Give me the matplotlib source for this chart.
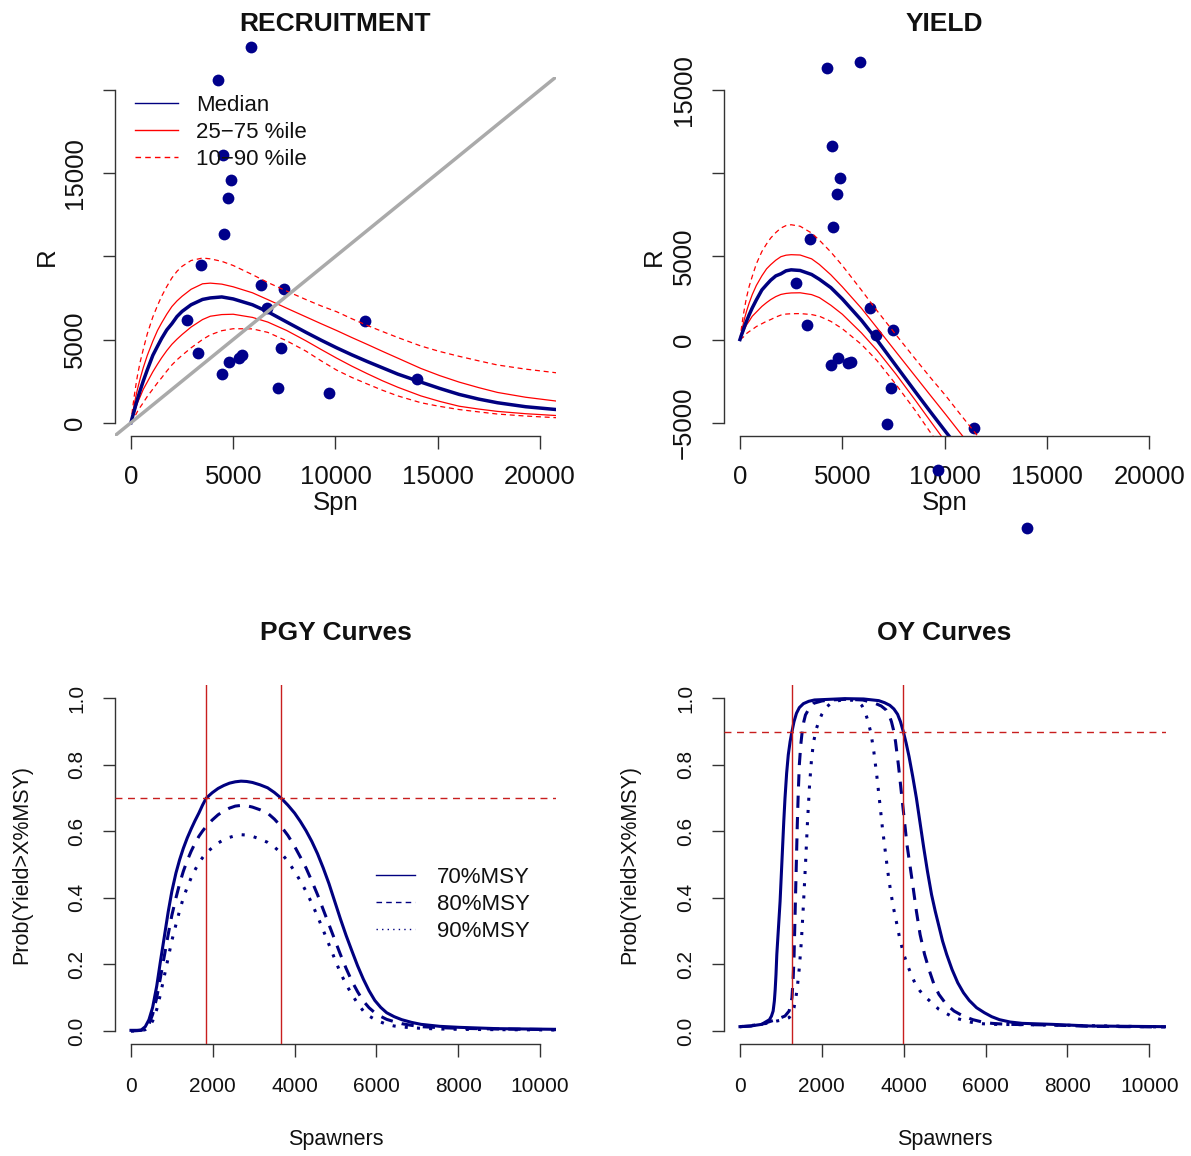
import matplotlib
matplotlib.use("Agg")
import matplotlib.pyplot as plt
from matplotlib.lines import Line2D
import numpy as np

plt.rcParams['font.family'] = ['Liberation Sans', 'DejaVu Sans']

# ---------------- data ----------------
obs_spawners = [5870, 4260, 4485, 4895, 4755, 4550, 3420, 6375, 7475, 6640, 2740,
                11440, 3290, 7355, 4785, 5420, 5290, 4450, 7195, 9675, 14000]
obs_recruits = [22560, 20580, 16090, 14595, 13525, 11320, 9475, 8255, 8050, 6890, 6150,
                6100, 4170, 4465, 3665, 4040, 3860, 2940, 2090, 1815, 2655]

curve_spawners = [0, 80, 160, 240, 320, 450, 600, 800, 1070, 1300, 1500, 1750, 2000, 2250,
                  2500, 2940, 3500, 3880, 4440, 5000, 5940, 6690, 7620, 8560, 9300, 10060,
                  10800, 11550, 12300, 13050, 14180, 15100, 16050, 17000, 17920, 19300, 20800]
rec_median = [0, 376, 724, 1088, 1422, 1940, 2500, 3180, 4050, 4600, 5065, 5575, 5950, 6380,
              6690, 7090, 7410, 7500, 7560, 7440, 7090, 6670, 6050, 5430, 4960, 4500,
              4080, 3680, 3300, 2920, 2440, 2060, 1700, 1420, 1200, 960, 790]
rec_p75 = [0, 560, 1100, 1580, 2020, 2650, 3300, 4050, 4900, 5550, 6000, 6520, 6980, 7320,
           7600, 8020, 8350, 8390, 8330, 8170, 7810, 7400, 6880, 6360, 5950, 5540,
           5120, 4710, 4290, 3880, 3260, 2830, 2440, 2110, 1820, 1530, 1300]
rec_p25 = [0, 300, 600, 900, 1200, 1560, 2000, 2450, 3060, 3520, 3900, 4330, 4710, 5020,
           5300, 5750, 6200, 6400, 6500, 6520, 6330, 6050, 5540, 4920, 4400, 3880,
           3400, 2950, 2520, 2130, 1610, 1280, 990, 820, 680, 540, 430]
rec_p90 = [0, 850, 1600, 2250, 2850, 3650, 4400, 5350, 6360, 7050, 7600, 8180, 8700, 9100,
           9400, 9750, 9900, 9850, 9700, 9450, 8900, 8430, 7910, 7400, 7020, 6670,
           6250, 5850, 5480, 5120, 4610, 4280, 3990, 3720, 3470, 3220, 3000]
rec_p10 = [0, 150, 300, 490, 680, 930, 1200, 1580, 2020, 2400, 2700, 3100, 3470, 3780,
           4050, 4500, 5000, 5280, 5530, 5650, 5640, 5430, 4920, 4300, 3720, 3160,
           2720, 2330, 1950, 1610, 1200, 980, 790, 650, 520, 400, 300]

pgy_spawners = [0, 150, 250, 350, 440, 530, 630, 720, 815, 910, 1000, 1100, 1190, 1280,
                1375, 1470, 1565, 1660, 1750, 1840, 1985, 2130, 2270, 2410, 2550, 2690,
                2830, 2970, 3155, 3340, 3505, 3670, 3835, 4000, 4140, 4280, 4420, 4560,
                4700, 4840, 4980, 5120, 5260, 5400, 5540, 5680, 5820, 5960, 6105, 6250,
                6435, 6620, 6855, 7090, 7550, 8020, 8960, 10410]
pgy_70 = [0.002, 0.002, 0.003, 0.013, 0.034, 0.071, 0.135, 0.209, 0.283, 0.358, 0.420,
          0.475, 0.515, 0.549, 0.580, 0.607, 0.632, 0.655, 0.679, 0.700, 0.716, 0.729,
          0.738, 0.745, 0.749, 0.751, 0.750, 0.747, 0.740, 0.731, 0.717, 0.700, 0.679,
          0.655, 0.630, 0.602, 0.570, 0.533, 0.490, 0.443, 0.390, 0.337, 0.287, 0.241,
          0.196, 0.156, 0.121, 0.092, 0.071, 0.055, 0.043, 0.034, 0.026, 0.020, 0.014,
          0.011, 0.007, 0.005]
pgy_80 = [0.0, 0.001, 0.002, 0.006, 0.020, 0.050, 0.100, 0.160, 0.225, 0.290, 0.348,
          0.400, 0.443, 0.480, 0.512, 0.540, 0.564, 0.585, 0.601, 0.615, 0.634, 0.650,
          0.661, 0.670, 0.676, 0.678, 0.677, 0.673, 0.665, 0.655, 0.637, 0.615, 0.588,
          0.555, 0.523, 0.490, 0.451, 0.410, 0.365, 0.320, 0.275, 0.230, 0.188, 0.150,
          0.118, 0.090, 0.070, 0.055, 0.044, 0.035, 0.028, 0.022, 0.017, 0.013, 0.010,
          0.008, 0.006, 0.004]
pgy_90 = [0.0, 0.0, 0.001, 0.004, 0.012, 0.030, 0.065, 0.110, 0.165, 0.220, 0.272,
          0.320, 0.362, 0.400, 0.432, 0.460, 0.484, 0.505, 0.521, 0.535, 0.551, 0.565,
          0.575, 0.582, 0.587, 0.590, 0.589, 0.585, 0.577, 0.567, 0.553, 0.535, 0.510,
          0.480, 0.451, 0.420, 0.384, 0.345, 0.303, 0.260, 0.217, 0.175, 0.140, 0.110,
          0.083, 0.060, 0.045, 0.035, 0.027, 0.020, 0.015, 0.012, 0.010, 0.008, 0.006,
          0.005, 0.004, 0.003]
pgy_bounds = [1826, 3670]
pgy_level = 0.7

oy70_spawners = [0, 260, 530, 720, 770, 810, 840, 860, 880, 900, 940, 980, 1010, 1040,
                 1070, 1100, 1140, 1180, 1225, 1270, 1320, 1380, 1450, 1550, 1680, 1820,
                 2560, 3020, 3390, 3530, 3660, 3760, 3850, 3920, 3990, 4060, 4130, 4220,
                 4310, 4400, 4490, 4580, 4680, 4770, 4860, 4950, 5050, 5180, 5320, 5460,
                 5600, 5780, 5970, 6150, 6340, 6600, 6890, 7620, 8550, 10390]
oy_70 = [0.013, 0.015, 0.020, 0.034, 0.045, 0.060, 0.090, 0.124, 0.170, 0.230, 0.310,
         0.390, 0.470, 0.550, 0.630, 0.700, 0.775, 0.830, 0.870, 0.900, 0.930, 0.955,
         0.972, 0.984, 0.991, 0.995, 0.999, 0.998, 0.993, 0.987, 0.979, 0.968, 0.952,
         0.930, 0.900, 0.865, 0.825, 0.765, 0.700, 0.625, 0.550, 0.480, 0.410, 0.360,
         0.315, 0.270, 0.230, 0.185, 0.145, 0.115, 0.092, 0.070, 0.055, 0.043, 0.034,
         0.027, 0.023, 0.020, 0.015, 0.013]
oy80_spawners = [0, 260, 530, 720, 900, 1100, 1200, 1240, 1270, 1300, 1320, 1340, 1360,
                 1380, 1400, 1425, 1450, 1485, 1520, 1560, 1600, 1700, 1800, 2000, 2200,
                 2600, 3000, 3300, 3450, 3570, 3640, 3700, 3750, 3800, 3870, 3940, 4010,
                 4080, 4150, 4220, 4310, 4400, 4510, 4630, 4740, 4860, 5040, 5230, 5450,
                 5690, 5920, 6150, 6520, 7620, 8550, 10390]
oy_80 = [0.013, 0.015, 0.020, 0.028, 0.035, 0.045, 0.060, 0.080, 0.100, 0.160, 0.220,
         0.320, 0.420, 0.520, 0.620, 0.720, 0.800, 0.860, 0.900, 0.930, 0.950, 0.972,
         0.985, 0.992, 0.995, 0.997, 0.995, 0.985, 0.977, 0.965, 0.950, 0.930, 0.905,
         0.870, 0.800, 0.720, 0.640, 0.560, 0.500, 0.440, 0.360, 0.290, 0.230, 0.180,
         0.140, 0.110, 0.080, 0.060, 0.045, 0.034, 0.027, 0.023, 0.020, 0.018, 0.014,
         0.012]
oy90_spawners = [0, 530, 900, 1100, 1200, 1260, 1320, 1360, 1400, 1450, 1500, 1550, 1600,
                 1650, 1700, 1750, 1800, 1870, 1940, 2000, 2100, 2200, 2300, 2450, 2600,
                 2750, 2900, 2980, 3050, 3120, 3200, 3270, 3340, 3420, 3480, 3540, 3610,
                 3680, 3750, 3810, 3900, 3990, 4100, 4270, 4400, 4550, 4860, 5200, 5500,
                 5780, 6150, 7620, 10390]
oy_90 = [0.013, 0.020, 0.030, 0.035, 0.040, 0.050, 0.070, 0.095, 0.130, 0.190, 0.270,
         0.380, 0.500, 0.630, 0.740, 0.820, 0.870, 0.910, 0.935, 0.952, 0.972, 0.983,
         0.990, 0.994, 0.995, 0.994, 0.988, 0.978, 0.960, 0.935, 0.895, 0.840, 0.770,
         0.680, 0.610, 0.550, 0.480, 0.420, 0.370, 0.335, 0.280, 0.235, 0.195, 0.145,
         0.120, 0.100, 0.065, 0.042, 0.030, 0.023, 0.020, 0.018, 0.012]
oy_bounds = [1270, 3990]
oy_level = 0.9

# ---------------- styling ----------------
NAVY = '#000080'
PTS = '#00008B'
RED = '#FF0000'
DRED = '#C81E1E'
AXC = '#333333'
TXT = '#111111'

W, H = 1191, 1156
fig = plt.figure(figsize=(W / 100, H / 100), dpi=100)


def px_axes(l, r, t, b):
    return fig.add_axes([l / W, 1 - b / H, (r - l) / W, (b - t) / H])


def style(ax, xticks, xlabels, yticks, ylabels, fs, xpad, ypad):
    for s in ['top', 'right']:
        ax.spines[s].set_visible(False)
    ax.spines['left'].set_bounds(yticks[0], yticks[-1])
    ax.spines['bottom'].set_bounds(xticks[0], xticks[-1])
    for s in ['left', 'bottom']:
        ax.spines[s].set_linewidth(1.0)
        ax.spines[s].set_color(AXC)
    ax.set_xticks(xticks)
    ax.set_xticklabels(xlabels)
    ax.set_yticks(yticks)
    ax.set_yticklabels(ylabels, rotation=90, va='center')
    ax.tick_params(axis='both', direction='out', length=9, width=1.0, color=AXC,
                   labelsize=fs, labelcolor=TXT)
    ax.tick_params(axis='x', pad=xpad)
    ax.tick_params(axis='y', pad=ypad)
    ax.patch.set_visible(False)


def labels(ax, title, xl, yl, fs_lab, xl_y, yl_x):
    ax.text(0.5, 1.146, title, transform=ax.transAxes, ha='center', va='center',
            fontsize=19, fontweight='bold', color=TXT)
    ax.set_xlabel(xl, fontsize=fs_lab, color=TXT)
    ax.set_ylabel(yl, fontsize=fs_lab, color=TXT)
    ax.xaxis.set_label_coords(0.5, xl_y)
    ax.yaxis.set_label_coords(yl_x, 0.5)
    ax.xaxis.label.set_va('center')
    ax.yaxis.label.set_va('center')


S = np.array(curve_spawners, dtype=float)
curves = [(rec_median, NAVY, 2.5, '-'), (rec_p75, RED, 0.9, '-'), (rec_p25, RED, 0.9, '-'),
          (rec_p90, RED, 0.9, (0, (4, 3))), (rec_p10, RED, 0.9, (0, (4, 3)))]

# ---- RECRUITMENT ----
ax1 = px_axes(114.6, 556.3, 76.7, 436.0)
ax1.set_xlim(-800, 20800)
ax1.set_ylim(-800, 20800)
ax1.scatter(obs_spawners, obs_recruits, s=72, color=PTS, zorder=2, clip_on=False,
            linewidths=0)
for vals, c, lw, ls in curves[1:] + curves[:1]:
    ax1.plot(S, vals, color=c, lw=lw, linestyle=ls, zorder=3)
ax1.axline((0, 0), slope=1, color='#AAAAAA', lw=2.5, zorder=4)
style(ax1, [0, 5000, 10000, 15000, 20000], ['0', '5000', '10000', '15000', '20000'],
      [0, 5000, 10000, 15000, 20000], ['0', '5000', '', '15000', ''], 18.5, 11.7, 11)
labels(ax1, 'RECRUITMENT', 'Spn', 'R', 18.5, -0.1865, -0.153)
handles = [Line2D([], [], color=NAVY, lw=1.0),
           Line2D([], [], color=RED, lw=1.0),
           Line2D([], [], color=RED, lw=1.0, linestyle=(0, (4, 3)))]
leg = ax1.legend(handles, ['Median', '25\u221275 %ile', '10\u221290 %ile'], loc='upper left',
                 bbox_to_anchor=(0.046, 0.950), frameon=False, borderaxespad=0, borderpad=0,
                 handlelength=1.94, handletextpad=0.81, labelspacing=0.28, fontsize=16)
leg.set_zorder(6)
for t in leg.get_texts():
    t.set_color(TXT)

# ---- YIELD ----
ax2 = px_axes(723.6, 1165.7, 76.7, 436.0)
ax2.set_xlim(-800, 20800)
ax2.set_ylim(-5800, 15800)
obs_yield = np.array(obs_recruits, float) - np.array(obs_spawners, float)
ax2.scatter(obs_spawners, obs_yield, s=72, color=PTS, zorder=2, clip_on=False, linewidths=0)
for vals, c, lw, ls in curves[1:] + curves[:1]:
    ax2.plot(S, np.array(vals, float) - S, color=c, lw=lw, linestyle=ls, zorder=3)
style(ax2, [0, 5000, 10000, 15000, 20000], ['0', '5000', '10000', '15000', '20000'],
      [-5000, 0, 5000, 10000, 15000], ['\u22125000', '0', '5000', '', '15000'], 18.5, 11.7, 11)
labels(ax2, 'YIELD', 'Spn', 'R', 18.5, -0.1865, -0.158)


def prob_panel(ax, title, series, bounds, level, yl_x, legend=False):
    ax.set_xlim(-400, 10400)
    ax.set_ylim(-0.04, 1.04)
    for xs, ys, ls in series:
        ax.plot(xs, ys, color=NAVY, lw=2.2, linestyle=ls, zorder=3)
    for b in bounds:
        ax.axvline(b, color=DRED, lw=1.0, zorder=4)
    ax.axhline(level, color=DRED, lw=1.0, linestyle=(0, (5, 4)), zorder=4)
    style(ax, [0, 2000, 4000, 6000, 8000, 10000], ['0', '2000', '4000', '6000', '8000', '10000'],
          [0, 0.2, 0.4, 0.6, 0.8, 1.0], ['0.0', '0.2', '0.4', '0.6', '0.8', '1.0'], 15, 14.5, 11.5)
    labels(ax, title, 'Spawners', 'Prob(Yield>X%MSY)', 15.5, -0.2636, yl_x)
    if legend:
        hs = [Line2D([], [], color=NAVY, lw=1.0),
              Line2D([], [], color=NAVY, lw=1.0, linestyle=(0, (4, 3))),
              Line2D([], [], color=NAVY, lw=1.0, linestyle=(0, (1, 3)))]
        lg = ax.legend(hs, ['70%MSY', '80%MSY', '90%MSY'], loc='upper left',
                       bbox_to_anchor=(0.592, 0.4946), frameon=False, borderaxespad=0,
                       borderpad=0, handlelength=1.76, handletextpad=0.99, labelspacing=0.28,
                       fontsize=16)
        for t in lg.get_texts():
            t.set_color(TXT)


ax3 = px_axes(114.6, 556.4, 685.0, 1044.3)
prob_panel(ax3, 'PGY Curves',
           [(pgy_spawners, pgy_70, '-'), (pgy_spawners, pgy_80, (0, (4, 3))),
            (pgy_spawners, pgy_90, (0, (1, 3)))],
           pgy_bounds, pgy_level, -0.2096, legend=True)

ax4 = px_axes(723.6, 1165.7, 685.0, 1044.3)
prob_panel(ax4, 'OY Curves',
           [(oy70_spawners, oy_70, '-'), (oy80_spawners, oy_80, (0, (4, 3))),
            (oy90_spawners, oy_90, (0, (1, 3)))],
           oy_bounds, oy_level, -0.212)

fig.savefig('out.png', dpi=100, facecolor='white')
